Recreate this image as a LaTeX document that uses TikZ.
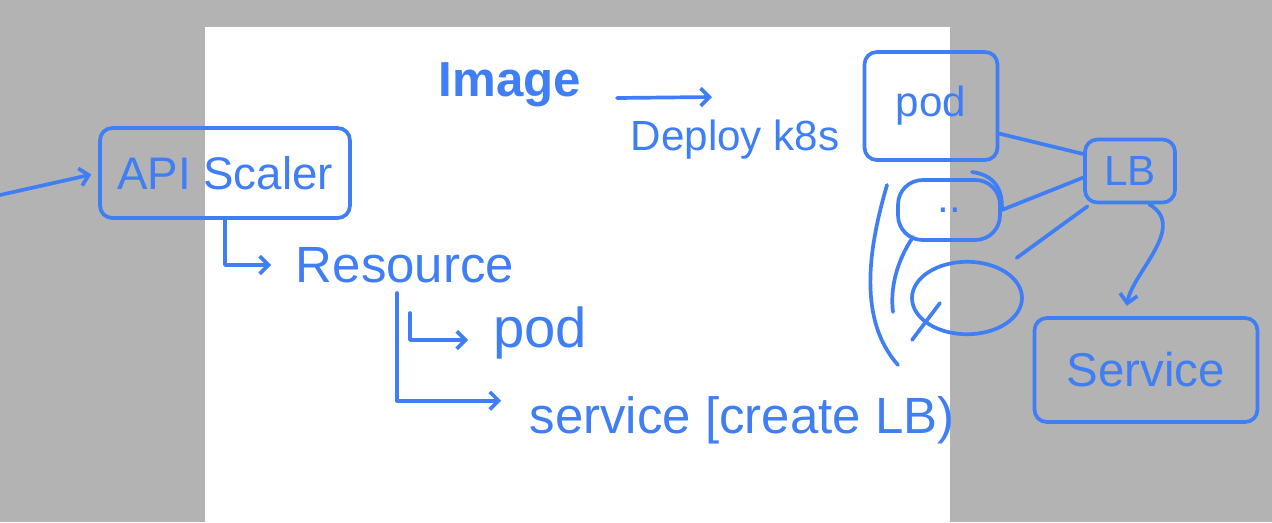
\documentclass[tikz,border=0pt]{standalone}
\usepackage{fontspec}
\setmainfont{Liberation Sans}
\usetikzlibrary{arrows.meta,shapes.geometric}

\definecolor{inkblue}{HTML}{3F7EF5}
\definecolor{slate}{HTML}{B3B3B3}

\tikzset{
  ink/.style={draw=inkblue,line width=2.1pt,line cap=round,line join=round},
  inkarrow/.style={ink,-{Straight Barb[length=5pt,width=10pt]}},
  word/.style={text=inkblue,font=\fontsize{24}{28}\selectfont,inner sep=2pt},
  bigword/.style={word,font=\fontsize{29}{33}\selectfont},
  inkbox/.style={ink,word,rounded corners=7pt}
}

\begin{document}
\begin{tikzpicture}[x=0.02cm,y=-0.02cm]
    % Canvas
    \useasboundingbox (0,0) rectangle (1272,522);
    \fill[slate] (0,0) rectangle (1272,522);
    \fill[white] (205,27) rectangle (950,522);

    % Nodes for the left part
    \node[inkbox,font=\fontsize{26}{30}\selectfont,minimum width=5cm,minimum height=1.8cm] (api) at (225,173) {API Scaler};
    \node[bigword] (resource) at (405,265) {Resource};
    \node[bigword,font=\fontsize{32}{36}\selectfont] (podr) at (540,333) {pod};
    \node[bigword] (svc) at (742,420) {service [create LB)};
    \coordinate (entry) at (0,195);
    \coordinate (rtap) at (397,293);
    \coordinate (ptap) at (410,313);

    % Nodes for the top part
    \node[word,font=\fontsize{28}{32}\selectfont\bfseries] (image) at (510,85) {Image};
    \node[word] (deploy) at (735,140) {Deploy k8s};
    \coordinate (imgtail) at (617,98);
    \coordinate (imghead) at (712,97);

    % Nodes for the right part
    \node[inkbox,minimum width=2.66cm,minimum height=2.16cm] (pod) at (931,106) {pod};
    \node[inkbox,minimum width=1.8cm,minimum height=1.26cm] (lb) at (1130,171) {LB};
    \node[inkbox,rounded corners=14pt,minimum width=2.04cm,minimum height=1.2cm] (blob) at (949,210) {..};
    \node[ink,ellipse,minimum width=2.2cm,minimum height=1.45cm] (ell) at (967,298) {};
    \node[inkbox,font=\fontsize{27}{31}\selectfont,minimum width=4.46cm,minimum height=2.08cm] (service) at (1146,370) {Service};

    % Edges for the left part
    \draw[inkarrow,shorten >=4pt] (entry) -- (api.west);
    \draw[inkarrow,shorten >=12pt] (api.south) |- (resource.west);
    \draw[inkarrow,shorten >=12pt] (ptap) |- ([yshift=-4pt]podr.west);
    \draw[inkarrow,shorten >=14pt] (rtap) |- ([yshift=11pt]svc.west);

    % Edges for the top part
    \draw[inkarrow] (imgtail) -- (imghead);

    % Edges for the right part
    \draw[ink] (pod.-22) -- (lb.160);
    \draw[ink] (blob.east) -- (lb.188);
    \draw[ink] (972,172) .. controls (995,175) and (1003,190) .. (blob.east);
    \draw[ink,shorten <=2pt,shorten >=10pt] (lb.-140) -- (ell.40);
    \draw[inkarrow,shorten >=6pt] (lb.-60) to[out=-30,in=80] ([xshift=-12pt]service.north);

    % Marks round the pods
    \draw[ink] (940,303) -- (912,340);
    \draw[ink] (887,185) .. controls (868,250) and (858,320) .. (898,365);
    \draw[ink] (913,237) .. controls (896,262) and (890,290) .. (893,312);
\end{tikzpicture}
\end{document}
